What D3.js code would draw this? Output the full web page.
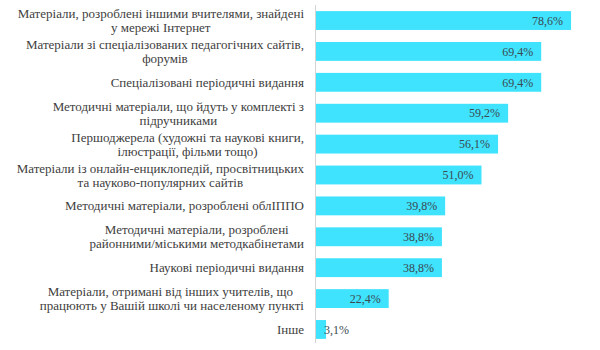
<!DOCTYPE html>
<html>
<head>
<meta charset="utf-8">
<script src="https://cdn.jsdelivr.net/npm/d3@7"></script>
<style>
  html, body { margin: 0; padding: 0; background: #fff; }
  svg { display: block; }
  text { font-family: "Liberation Serif", "DejaVu Serif", serif; }
</style>
</head>
<body>
<svg id="chart" width="600" height="350"></svg>
<script>
// Sources of teaching materials (share of respondents, %)
const categories = [
  "Матеріали, розроблені іншими вчителями, знайдені\nу мережі Інтернет",
  "Матеріали зі спеціалізованих педагогічних сайтів,\nфорумів",
  "Спеціалізовані періодичні видання",
  "Методичні матеріали, що йдуть у комплекті з\nпідручниками",
  "Першоджерела (художні та наукові книги,\nілюстрації, фільми тощо)",
  "Матеріали із онлайн-енциклопедій, просвітницьких\nта науково-популярних сайтів",
  "Методичні матеріали, розроблені облІППО",
  "Методичні матеріали, розроблені\nрайонними/міськими методкабінетами",
  "Наукові періодичні видання",
  "Матеріали, отримані від інших учителів, що \nпрацюють у Вашій школі чи населеному пункті",
  "Інше"
];
const values = [78.6, 69.4, 69.4, 59.2, 56.1, 51.0, 39.8, 38.8, 38.8, 22.4, 3.1];
const valueLabels = ["78,6%", "69,4%", "69,4%", "59,2%", "56,1%", "51,0%", "39,8%", "38,8%", "38,8%", "22,4%", "3,1%"];

const svg = d3.select("#chart");
const labelSize = 13;
const valueSize = 12;

const y = d3.scaleBand()
  .domain(categories)
  .range([0, 350])
  .paddingInner(0.39)
  .paddingOuter(0.36);

const x = d3.scaleLinear()
  .domain([0, 100])
  .range([316, 640.5]);

// bars
svg.append("g")
  .selectAll("rect")
  .data(values)
  .join("rect")
  .attr("x", x(0))
  .attr("y", (d, i) => y(categories[i]))
  .attr("width", d => x(d) - x(0))
  .attr("height", y.bandwidth())
  .attr("fill", "#3fe3fd");

// vertical axis line
svg.append("line")
  .attr("x1", x(0) - 0.5).attr("x2", x(0) - 0.5)
  .attr("y1", 5).attr("y2", 343)
  .attr("stroke", "#d4d4d4")
  .attr("stroke-width", 1);

// category labels (multi-line, centred within a right-aligned block)
const labelRight = 304;
const lineH = 14;
const tmp = svg.append("text").attr("font-size", labelSize);
categories.forEach((cat, i) => {
  const lines = cat.split("\n");
  const widths = lines.map(l => { tmp.text(l); return tmp.node().getComputedTextLength(); });
  const blockW = d3.max(widths);
  const cx = labelRight - blockW / 2;
  const cy = y(cat) + y.bandwidth() / 2;
  const t = svg.append("text")
    .attr("font-size", labelSize)
    .attr("fill", "#404040")
    .attr("text-anchor", "middle");
  lines.forEach((l, j) => {
    t.append("tspan")
      .attr("x", cx)
      .attr("y", cy + (j - (lines.length - 1) / 2) * lineH)
      .attr("dy", "0.35em")
      .text(l);
  });
});
tmp.remove();

// value labels, inside the bar end (pushed outward when the bar is too short)
svg.append("g")
  .selectAll("text")
  .data(values)
  .join("text")
  .attr("font-size", valueSize)
  .attr("fill", "#3a4a52")
  .attr("text-anchor", "end")
  .attr("dy", "0.35em")
  .attr("y", (d, i) => y(categories[i]) + y.bandwidth() / 2)
  .text((d, i) => valueLabels[i])
  .attr("x", function (d) {
    const w = this.getComputedTextLength();
    return Math.max(x(d) - 8, x(0) + 8 + w);
  });
</script>
</body>
</html>
